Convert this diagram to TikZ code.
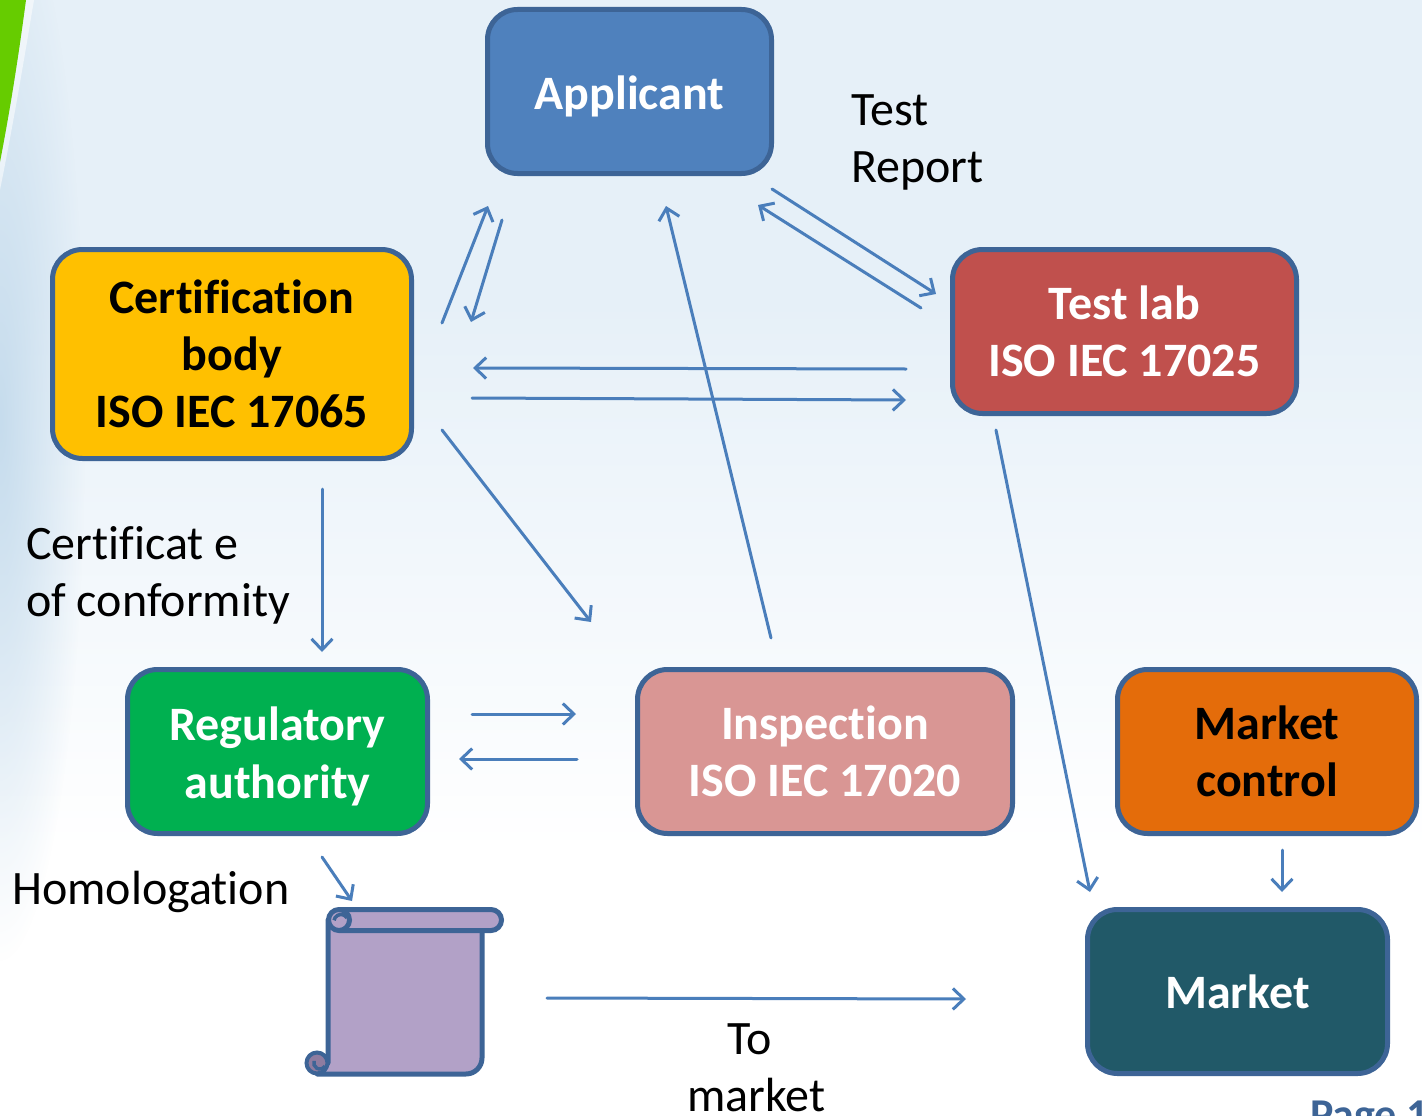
\documentclass[tikz,border=0pt]{standalone}
\usepackage{fontspec}
\setmainfont[Ligatures=NoCommon]{Carlito}
\usetikzlibrary{arrows.meta,fadings}
\definecolor{edgeblue}{RGB}{61,100,150}
\definecolor{flowblue}{RGB}{74,126,187}
\definecolor{bgblue}{RGB}{230,240,248}
\definecolor{sideblue}{RGB}{198,220,237}
\definecolor{curlgray}{RGB}{142,124,160}
\definecolor{leafgreen}{RGB}{102,204,0}
\tikzfading[name=sidefade,inner color=transparent!0,outer color=transparent!100]
\tikzset{
  box/.style={draw=edgeblue,line width=5pt,rounded corners=30pt,align=center,
    font=\fontsize{48}{57}\selectfont\bfseries},
  flow/.style={->,draw=flowblue,line width=3pt,line cap=round},
  txt/.style={font=\fontsize{48}{57}\selectfont,align=left,inner sep=0pt},
  >={Straight Barb[length=11pt,width=21pt]}
}
\begin{document}
\begin{tikzpicture}[x=1pt,y=-1pt]
  \clip (0,0) rectangle (1422,1116);
  % background and swoosh
  \fill[bgblue] (0,0) rectangle (1422,300);
  \shade[top color=bgblue,bottom color=white] (0,300) rectangle (1422,850);
  \fill[white] (0,850) rectangle (1422,1116);
  \fill[sideblue,path fading=sidefade] (0,420) ellipse (85 and 540);
  \fill[white,opacity=0.55] (26,0) .. controls (18,60) and (10,110) .. (0,162) -- (0,190) .. controls (14,120) and (24,60) .. (34,0) -- cycle;
  \fill[leafgreen] (0,0) -- (26,0) .. controls (18,60) and (10,110) .. (0,162) -- cycle;
  % boxes
  \node[box,fill={rgb,255:red,79;green,129;blue,189},text=white,minimum width=284pt,minimum height=164pt] (appl) at (629.5,91.5) {\raisebox{-18pt}[0pt][0pt]{Applicant}};
  \node[box,fill={rgb,255:red,255;green,192;blue,0},minimum width=359pt,minimum height=209pt] (cert) at (232,354) {Certification\\body\\ISO IEC 17065};
  \node[box,fill={rgb,255:red,192;green,80;blue,77},text=white,minimum width=344pt,minimum height=164pt] (lab) at (1124.5,331.5) {Test lab\\ISO IEC 17025};
  \node[box,fill={rgb,255:red,0;green,176;blue,80},text=white,minimum width=300pt,minimum height=164pt] (reg) at (277.5,751.5) {\rule{0pt}{43pt}Regulatory\\[1pt]authority};
  \node[box,fill={rgb,255:red,217;green,150;blue,148},text=white,minimum width=375pt,minimum height=164pt] (insp) at (825,751.5) {Inspection\\ISO IEC 17020};
  \node[box,fill={rgb,255:red,228;green,108;blue,10},minimum width=299pt,minimum height=164pt] (mc) at (1267,751.5) {Market\\control};
  \node[box,fill={rgb,255:red,33;green,89;blue,104},text=white,minimum width=300pt,minimum height=164pt] (mkt) at (1237.5,991.5) {Market};
  % scroll
  \node[minimum width=155pt,minimum height=165pt,inner sep=0pt] (scroll) at (405,992) {};
  \filldraw[draw=edgeblue,line width=5pt,fill={rgb,255:red,178;green,161;blue,199},line join=round]
    (328,920) -- (328,1063) -- (317,1074) -- (466,1074) arc (90:0:16) -- (482,930) -- cycle;
  \filldraw[draw=edgeblue,line width=5pt,fill={rgb,255:red,178;green,161;blue,199}]
    (339,909.5) -- (491,909.5) arc (-90:90:10.5) -- (339,930.5) arc (90:270:10.5) -- cycle;
  \draw[edgeblue,line width=5pt] (339,909.5) arc (-90:90:10.5);
  \filldraw[draw=edgeblue,line width=4pt,fill=curlgray] (317,1063) circle (10.5);
  \draw[edgeblue,line width=3.5pt] (325,1066) arc (30:200:6);
  \draw[edgeblue,line width=3.5pt] (347,918) arc (-30:-170:7);
  % flows between boxes
  \draw[flow] ([shift={(210,-31)}]cert.center) -- ([shift={(-141.5,114.5)}]appl.center);
  \draw[flow] ([shift={(-127.5,128.5)}]appl.center) -- ([shift={(239,-32)}]cert.center);
  \draw[flow] ([shift={(142.5,97.5)}]appl.center) -- ([shift={(-188.5,-37.5)}]lab.center);
  \draw[flow] ([shift={(-203.5,-23.5)}]lab.center) -- ([shift={(128.5,113.5)}]appl.center);
  \draw[flow] ([shift={(-218.5,37.5)}]lab.center) -- ([shift={(241,14)}]cert.center);
  \draw[flow] ([shift={(240,44)}]cert.center) -- ([shift={(-218.5,68.5)}]lab.center);
  \draw[flow] ([shift={(210,76)}]cert.center) -- ([shift={(-234,-129.5)}]insp.center);
  \draw[flow] ([shift={(-54,-113.5)}]insp.center) -- ([shift={(36.5,114.5)}]appl.center);
  \draw[flow] ([shift={(-128.5,98.5)}]lab.center) -- ([shift={(-147.5,-99.5)}]mkt.center);
  \draw[flow] ([shift={(90,135)}]cert.center) -- ([shift={(44.5,-99.5)}]reg.center);
  \draw[flow] ([shift={(194.5,-37.5)}]reg.center) -- ([shift={(-249,-37.5)}]insp.center);
  \draw[flow] ([shift={(-248,7.5)}]insp.center) -- ([shift={(181.5,7.5)}]reg.center);
  \draw[flow] ([shift={(44.5,105.5)}]reg.center) -- ([shift={(-53,-91)}]scroll.center);
  \draw[flow] ([shift={(142,6)}]scroll.center) -- ([shift={(-271.5,7.5)}]mkt.center);
  \draw[flow] ([shift={(15,98.5)}]mc.center) -- ([shift={(44.5,-99.5)}]mkt.center);
  % free labels
  \node[txt,anchor=west] (report) at (851,142) {Test\\Report};
  \node[txt,anchor=west] (conform) at (26,575) {Certificat e\\of conformity};
  \node[txt,anchor=west] (homol) at (12,892) {Homologation};
  \node[txt,align=center] (tomarket) at (756.5,1068) {To\hspace*{14pt}\\market};
  \node[anchor=base west,inner sep=0pt,text=edgeblue,font=\fontsize{44}{52}\selectfont\bfseries] (page) at (1310,1129) {Page 1};
\end{tikzpicture}
\end{document}
